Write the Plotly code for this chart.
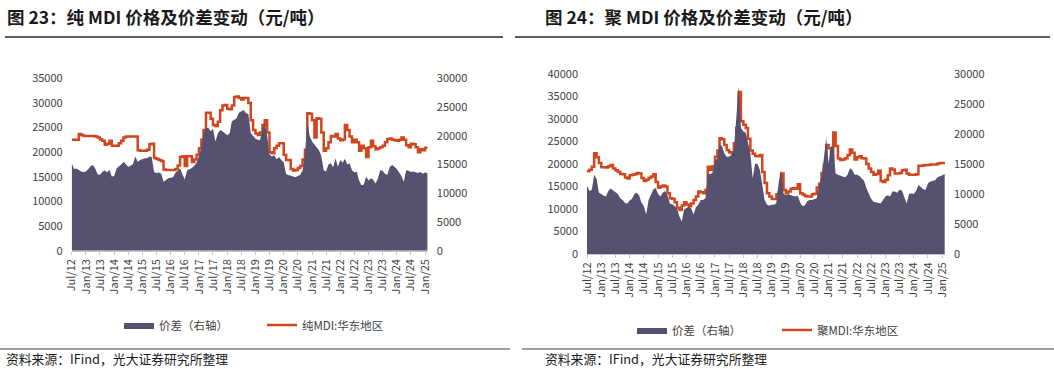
import pandas as pd
import plotly.graph_objects as go

# ---------------- data ----------------
dates = pd.date_range("2012-07-01", periods=152, freq="MS")

pure_price = [22500, 22500, 22500, 23700, 23500, 23300, 23300, 23300, 23300, 23300,
              23200, 23000, 22600, 22300, 21500, 21700, 22300, 21300, 21300, 21300,
              21800, 22300, 23000, 23200, 23200, 23200, 23200, 23200, 20400, 20300,
              20300, 20300, 20500, 21600, 21700, 18800, 18600, 18400, 18200, 16500,
              16400, 16400, 16400, 16400, 16600, 17300, 19000, 19200, 17200, 19200,
              19200, 18000, 18500, 19500, 20800, 22500, 24500, 28000, 28000, 26800,
              25500, 25300, 26200, 28500, 29500, 29600, 28800, 28700, 29500, 31200,
              31300, 31000, 30700, 31000, 31000, 30000, 26500, 24500, 23800, 23500,
              24000, 25500, 26500, 24000, 20000, 19800, 20800, 21300, 21800, 21800,
              19500, 18400, 18400, 16600, 16300, 16400, 16800, 17200, 18500, 20500,
              27900, 27800, 26500, 23000, 26900, 26800, 24000, 20300, 20800, 22000,
              23300, 23200, 23700, 22800, 22400, 22600, 25500, 24500, 23200, 22000,
              22500, 22000, 20300, 21300, 20800, 19000, 21000, 22300, 21200, 20600,
              20800, 21000, 21300, 22000, 22700, 22800, 22500, 22400, 22300, 22500,
              23000, 22500, 21400, 21000, 21700, 21600, 21000, 20000, 20600, 20400,
              20900, 20900]

pure_spread = [15200, 14200, 14300, 14000, 13800, 13700, 13800, 14200, 14700, 14900,
               14300, 13300, 13200, 13700, 14000, 13600, 14100, 12900, 13000, 14300,
               14600, 15000, 15500, 15000, 14600, 14800, 15100, 16400, 15500, 15800,
               16000, 16100, 16100, 16400, 16300, 13700, 13500, 13600, 13400, 12000,
               12300, 12600, 12700, 12800, 13500, 14000, 14300, 13300, 12400, 14000,
               14200, 14400, 14800, 15300, 16500, 18100, 20500, 21300, 21400, 20800,
               21200, 19000, 20400, 21000, 20800, 20500, 20100, 20400, 22500, 22800,
               23000, 24000, 24300, 24500, 23900, 23800, 20500, 20000, 19500, 19300,
               19200, 21200, 22200, 20000, 16800, 16400, 16600, 15900, 16300, 15800,
               15400, 13300, 13200, 13000, 12900, 12800, 13000, 13200, 14000, 16500,
               22500, 20000, 19000, 18400, 18000, 17500, 16500, 14000, 13800, 15000,
               15200, 14500, 16100, 14600, 15800, 15300, 16000, 15000, 15200, 14000,
               13600, 13800, 12200, 11400, 11500, 12900, 12200, 12600, 12400, 11700,
               12500, 14000, 13900, 13400, 13200, 14500, 14900, 14600, 14200, 13600,
               13000, 12000, 14000, 13900, 13700, 13800, 13600, 13500, 13700, 13400,
               13600, 13500]

poly_price = [18400, 18700, 19400, 22400, 21500, 20200, 19300, 19300, 19200, 19500,
              19800, 19000, 18600, 18200, 17800, 17700, 17000, 16800, 17500, 17600,
              17700, 18000, 17900, 16900, 16200, 16500, 16900, 17200, 17700, 16000,
              14700, 15000, 15200, 15000, 13500, 12400, 12300, 11500, 10300, 9800,
              10800, 11500, 11000, 10600, 11200, 12000, 12800, 13900, 13700, 13500,
              14200, 19400, 18700, 19500, 21600, 23000, 25700, 25500, 24200, 23100,
              22600, 22400, 24600, 28000, 36000, 29500, 28700, 28000, 25600, 23000,
              22300, 21800, 21700, 22000, 18200, 15800, 13500, 12800, 12200, 12200,
              13300, 13800, 17900, 14200, 13500, 13900, 14500, 14600, 14500, 15500,
              13500, 13200, 12900, 12800, 12800, 13300, 13400, 14800, 15600, 18000,
              19800, 24200, 23500, 19400, 27000, 24000, 21200, 20900, 21000, 21300,
              22000, 23200, 22500, 21000, 21500, 21700, 21300, 21200, 20000, 19000,
              18200, 17600, 17800, 18500, 16200, 16000, 16500, 17500, 19000, 18800,
              17900, 17900, 18000, 18600, 18700, 17900, 17600, 17600, 17600, 17700,
              19600, 19600, 19700, 19800, 19800, 19900, 19900, 19900, 20100, 20200,
              20200, 20400]

poly_spread = [11400, 10500, 10700, 13200, 12500, 10200, 10000, 9700, 9600, 10500,
               10900, 10600, 10300, 10000, 9300, 9000, 8500, 8400, 8900, 9200,
               10000, 10200, 9800, 8600, 8000, 6600, 9000, 9800, 10800, 11000,
               10000, 9600, 10200, 10500, 9800, 8400, 8300, 8000, 7600, 6300,
               5400, 7400, 7700, 7900, 7600, 6600, 7800, 8200, 9000, 9000,
               9300, 13400, 13300, 13600, 15400, 16000, 18200, 18000, 16800, 16200,
               16200, 16500, 17300, 22000, 27900, 21000, 20400, 20200, 18500, 16800,
               12600, 15100, 15000, 14000, 11500, 9000, 8200, 8100, 8200, 8200,
               8500, 12000, 14000, 10100, 9800, 9900, 9800, 9700, 9600, 9700,
               8600, 8000, 8100, 8800, 9000, 9000, 9200, 9300, 11500, 12800,
               16000, 19300, 15100, 17900, 18000, 13400, 13200, 13000, 12900, 12800,
               13200, 14300, 14000, 13200, 13200, 13000, 12600, 12200, 11000, 10100,
               9200, 8700, 8600, 8500, 8400, 9000, 9600, 9800, 9600, 10400,
               10400, 10200, 10700, 10600, 9500, 8400, 10000, 10100, 10000, 10600,
               11500, 11200, 10800, 10700, 11800, 12100, 12200, 12300, 12800, 13000,
               13200, 13300]

titles = ["图 23：纯 MDI 价格及价差变动（元/吨）", "图 24：聚 MDI 价格及价差变动（元/吨）"]
spread_name = "价差（右轴）"
price_names = ["纯MDI:华东地区", "聚MDI:华东地区"]
source_text = "资料来源：IFind，光大证券研究所整理"

# ---------------- style ----------------
W, H = 1054, 369
FONT = "Noto Sans CJK SC, Noto Sans, sans-serif"
AREA = "#56516F"
LINE = "#D0461F"
TXT = "#404040"

def px(x):
    return x / W

def py(y):
    return (H - y) / H

fig = go.Figure()

# left chart
fig.add_trace(go.Scatter(x=dates, y=pure_spread, name=spread_name, mode="lines",
                         line=dict(width=0, color=AREA), fill="tozeroy", fillcolor=AREA,
                         xaxis="x", yaxis="y2", legend="legend"))
fig.add_trace(go.Scatter(x=dates, y=pure_price, name=price_names[0], mode="lines",
                         line=dict(width=2.5, color=LINE, shape="hv"),
                         xaxis="x", yaxis="y", legend="legend"))
# right chart
fig.add_trace(go.Scatter(x=dates, y=poly_spread, name=spread_name, mode="lines",
                         line=dict(width=0, color=AREA), fill="tozeroy", fillcolor=AREA,
                         xaxis="x2", yaxis="y4", legend="legend2"))
fig.add_trace(go.Scatter(x=dates, y=poly_price, name=price_names[1], mode="lines",
                         line=dict(width=2.5, color=LINE, shape="hv"),
                         xaxis="x2", yaxis="y3", legend="legend2"))

tickfont = dict(family=FONT, size=11, color=TXT)

xcommon = dict(type="date", range=["2012-07-01", "2025-02-05"], tick0="2012-07-01",
               dtick="M6", tickformat="%b/%y", tickangle=-90, showgrid=False,
               showline=True, linecolor="#C8C6D4", linewidth=1, ticks="outside",
               ticklen=3, tickcolor="#C8C6D4", tickfont=tickfont, zeroline=False,
               fixedrange=True, automargin=False)
ycommon = dict(showgrid=False, zeroline=False, showline=False, ticks="",
               tickfont=tickfont, ticklabelstandoff=8, fixedrange=True,
               tickformat="d", automargin=False)

fig.update_layout(
    width=W, height=H,
    margin=dict(l=0, r=0, t=0, b=0, pad=0, autoexpand=False),
    paper_bgcolor="white", plot_bgcolor="white",
    font=dict(family=FONT, color=TXT),
    xaxis=dict(domain=[px(71.7), px(427.8)], anchor="y", **xcommon),
    xaxis2=dict(domain=[px(587), px(945)], anchor="y3", **xcommon),
    yaxis=dict(domain=[py(250.7), py(78.3)], range=[0, 35000], dtick=5000,
               anchor="x", side="left", **ycommon),
    yaxis2=dict(range=[0, 30000], dtick=5000, overlaying="y", side="right",
                anchor="x", **ycommon),
    yaxis3=dict(domain=[py(254), py(74)], range=[0, 40000], dtick=5000,
                anchor="x2", side="left", **ycommon),
    yaxis4=dict(range=[0, 30000], dtick=5000, overlaying="y3", side="right",
                anchor="x2", **ycommon),
    legend=dict(orientation="h", x=px(119), y=py(325), xanchor="left", yanchor="middle",
                font=dict(family=FONT, size=11.5, color=TXT), entrywidth=98,
                bgcolor="rgba(0,0,0,0)"),
    legend2=dict(orientation="h", x=px(632), y=py(330), xanchor="left", yanchor="middle",
                 font=dict(family=FONT, size=11.5, color=TXT), entrywidth=100,
                 bgcolor="rgba(0,0,0,0)"),
    showlegend=True,
)

# titles
fig.add_annotation(text="<b>" + titles[0] + "</b>", x=px(5), y=py(16), xref="paper", yref="paper",
                   xanchor="left", yanchor="middle", showarrow=False,
                   font=dict(family=FONT, size=17.5, color="#1a1a1a"))
fig.add_annotation(text="<b>" + titles[1] + "</b>", x=px(543), y=py(16), xref="paper", yref="paper",
                   xanchor="left", yanchor="middle", showarrow=False,
                   font=dict(family=FONT, size=17.5, color="#1a1a1a"))
# source notes
for sx in (4, 543):
    fig.add_annotation(text=source_text, x=px(sx), y=py(358), xref="paper", yref="paper",
                       xanchor="left", yanchor="middle", showarrow=False,
                       font=dict(family=FONT, size=12.8, color="#1a1a1a"))

# separator lines
shapes = []
for x0, x1 in ((5, 503), (515, 1050)):
    shapes.append(dict(type="line", xref="paper", yref="paper", x0=px(x0), x1=px(x1),
                       y0=py(37), y1=py(37), line=dict(color="#262626", width=1.5)))
for x0, x1 in ((0, 510), (522, 1054)):
    shapes.append(dict(type="line", xref="paper", yref="paper", x0=px(x0), x1=px(x1),
                       y0=py(349), y1=py(349), line=dict(color="#7f7f7f", width=1.5)))
fig.update_layout(shapes=shapes)

fig.write_html("out.html", config={"displayModeBar": False},
               post_script="document.body.style.margin='0';document.body.style.overflow='hidden';")
